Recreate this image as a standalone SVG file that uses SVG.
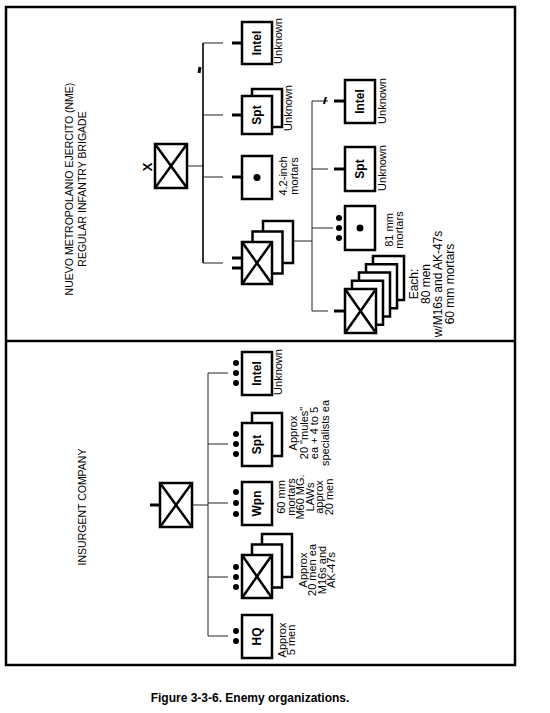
<svg xmlns="http://www.w3.org/2000/svg" width="550" height="713" viewBox="0 0 550 713">
<style>
.frame{fill:none;stroke:#000;stroke-width:2.5}
.box{fill:#fff;stroke:#000;stroke-width:2.5}
.x{stroke:#000;stroke-width:2.5}
.ln{stroke:#222;stroke-width:1;fill:none}
.trunk{stroke:#000;stroke-width:1.6;fill:none}
.stub{stroke:#000;stroke-width:3}
.dot{fill:#000}
text{font-family:"Liberation Sans",Arial,Helvetica,sans-serif;fill:#000;text-anchor:middle}
.b{font-weight:bold;font-size:12px}
.l{font-size:11px}
.t{font-size:10.5px}
.cap{font-weight:bold;font-size:12px}
</style>
<rect class="frame" x="6" y="7" width="509" height="658"/>
<line class="frame" x1="6" y1="341" x2="515" y2="341"/>

<g id="connectors">
  <!-- NME -->
  <line class="ln" x1="187" y1="166" x2="203" y2="166"/>
  <line class="trunk" x1="203" y1="43" x2="203" y2="263"/>
  <line class="ln" x1="203" y1="43" x2="223" y2="43"/>
  <line class="ln" x1="203" y1="115" x2="223" y2="115"/>
  <line class="ln" x1="203" y1="177" x2="223" y2="177"/>
  <line class="ln" x1="203" y1="263" x2="223" y2="263"/>
  <line class="stub" x1="199" y1="73" x2="200" y2="67"/>
  <line class="ln" x1="293" y1="241" x2="312" y2="241"/>
  <line class="ln" x1="312" y1="101" x2="312" y2="311"/>
  <line class="ln" x1="312" y1="101" x2="328" y2="101"/>
  <line class="ln" x1="312" y1="169" x2="328" y2="169"/>
  <line class="ln" x1="312" y1="228" x2="333" y2="228"/>
  <line class="ln" x1="312" y1="311" x2="328" y2="311"/>
  <line class="stub" x1="324" y1="104" x2="326" y2="97" style="stroke-width:2"/>
  <!-- Insurgent -->
  <line class="ln" x1="192" y1="505" x2="208" y2="505"/>
  <line class="ln" x1="208" y1="373" x2="208" y2="636"/>
  <line class="ln" x1="208" y1="373" x2="228" y2="373"/>
  <line class="ln" x1="208" y1="444" x2="228" y2="444"/>
  <line class="ln" x1="208" y1="503" x2="228" y2="503"/>
  <line class="ln" x1="208" y1="577" x2="228" y2="577"/>
  <line class="ln" x1="208" y1="636" x2="228" y2="636"/>
</g>

<g id="nme-title">
  <text class="t" transform="translate(73,189) rotate(-90)">NUEVO METROPOLANIO EJERCITO (NME)</text>
  <text class="t" transform="translate(86,189) rotate(-90)">REGULAR INFANTRY BRIGADE</text>
</g>

<g id="nme-bde">
  <rect class="box" x="155" y="144" width="32" height="44"/>
  <line class="x" x1="155" y1="144" x2="187" y2="188"/>
  <line class="x" x1="187" y1="144" x2="155" y2="188"/>
  <text class="b" style="font-size:13px" transform="translate(152,167) rotate(-90)">X</text>
</g>

<g id="nme-intel">
  <line class="stub" x1="232" y1="43" x2="242" y2="43"/>
  <rect class="box" x="242" y="22" width="30" height="42"/>
  <text class="b" transform="translate(261,43) rotate(-90)">Intel</text>
  <text class="l" transform="translate(282,41) rotate(-90)">Unknown</text>
</g>

<g id="nme-spt">
  <line class="stub" x1="232" y1="115" x2="242" y2="115"/>
  <rect class="box" x="252" y="89" width="30" height="38"/>
  <rect class="box" x="242" y="96" width="30" height="38"/>
  <text class="b" transform="translate(261,115) rotate(-90)">Spt</text>
  <text class="l" transform="translate(292,108) rotate(-90)">Unknown</text>
</g>

<g id="nme-mortar">
  <line class="stub" x1="232" y1="177" x2="242" y2="177"/>
  <rect class="box" x="242" y="156" width="30" height="43"/>
  <circle class="dot" cx="257" cy="177.5" r="3.5"/>
  <text class="l" transform="translate(287,176) rotate(-90)"><tspan x="0">4.2-inch</tspan><tspan x="0" dy="11">mortars</tspan></text>
</g>

<g id="nme-bn">
  <line class="stub" x1="232" y1="258" x2="242" y2="258"/>
  <line class="stub" x1="232" y1="268" x2="242" y2="268"/>
  <rect class="box" x="263" y="221" width="30" height="42"/>
  <rect class="box" x="252.5" y="231.5" width="30" height="42"/>
  <rect class="box" x="242" y="242" width="30" height="42"/>
  <line class="x" x1="242" y1="242" x2="272" y2="284"/>
  <line class="x" x1="272" y1="242" x2="242" y2="284"/>
</g>

<g id="bn-intel">
  <line class="stub" x1="334" y1="101" x2="345" y2="101"/>
  <rect class="box" x="345" y="80" width="30" height="43"/>
  <text class="b" transform="translate(364,101.5) rotate(-90)">Intel</text>
  <text class="l" transform="translate(386,101) rotate(-90)">Unknown</text>
</g>

<g id="bn-spt">
  <line class="stub" x1="334" y1="169" x2="345" y2="169"/>
  <rect class="box" x="345" y="147" width="30" height="44"/>
  <text class="b" transform="translate(364,169) rotate(-90)">Spt</text>
  <text class="l" transform="translate(386,168) rotate(-90)">Unknown</text>
</g>

<g id="bn-mortar">
  <circle class="dot" cx="339" cy="218" r="3"/>
  <circle class="dot" cx="339" cy="228" r="3"/>
  <circle class="dot" cx="339" cy="238" r="3"/>
  <rect class="box" x="345" y="206" width="30" height="44"/>
  <circle class="dot" cx="360" cy="228" r="3.5"/>
  <text class="l" transform="translate(393,230) rotate(-90)"><tspan x="0">81 mm</tspan><tspan x="0" dy="10">mortars</tspan></text>
</g>

<g id="bn-companies">
  <line class="stub" x1="334" y1="311" x2="345" y2="311"/>
  <rect class="box" x="373" y="256" width="31" height="44"/>
  <rect class="box" x="366" y="264.25" width="31" height="44"/>
  <rect class="box" x="359" y="272.5" width="31" height="44"/>
  <rect class="box" x="352" y="280.75" width="31" height="44"/>
  <rect class="box" x="345" y="289" width="31" height="44"/>
  <line class="x" x1="345" y1="289" x2="376" y2="333"/>
  <line class="x" x1="376" y1="289" x2="345" y2="333"/>
  <text class="l" style="font-size:12px" transform="translate(418,284) rotate(-90)"><tspan x="0">Each:</tspan><tspan x="0" dy="12">80 men</tspan><tspan x="0" dy="12">w/M16s and AK-47s</tspan><tspan x="0" dy="12">60 mm mortars</tspan></text>
</g>

<g id="ins-title">
  <text class="t" transform="translate(86,507) rotate(-90)">INSURGENT COMPANY</text>
</g>

<g id="ins-co">
  <line class="stub" x1="150" y1="505" x2="160" y2="505"/>
  <rect class="box" x="160" y="483" width="32" height="44"/>
  <line class="x" x1="160" y1="483" x2="192" y2="527"/>
  <line class="x" x1="192" y1="483" x2="160" y2="527"/>
</g>

<g id="ins-intel">
  <circle class="dot" cx="236" cy="363" r="3"/>
  <circle class="dot" cx="236" cy="373" r="3"/>
  <circle class="dot" cx="236" cy="383" r="3"/>
  <rect class="box" x="242" y="352" width="30" height="43"/>
  <text class="b" transform="translate(261,373.5) rotate(-90)">Intel</text>
  <text class="l" transform="translate(282,372) rotate(-90)">Unknown</text>
</g>

<g id="ins-spt">
  <circle class="dot" cx="236" cy="434" r="3"/>
  <circle class="dot" cx="236" cy="444" r="3"/>
  <circle class="dot" cx="236" cy="454" r="3"/>
  <rect class="box" x="252" y="413" width="30" height="43"/>
  <rect class="box" x="242" y="423" width="30" height="43"/>
  <text class="b" transform="translate(261,444.5) rotate(-90)">Spt</text>
  <text class="l" transform="translate(297,433) rotate(-90)"><tspan x="0">Approx</tspan><tspan x="0" dy="10.5">20 "mules"</tspan><tspan x="0" dy="10.5">ea + 4 to 5</tspan><tspan x="0" dy="10.5">specialists ea</tspan></text>
</g>

<g id="ins-wpn">
  <circle class="dot" cx="236" cy="492" r="3"/>
  <circle class="dot" cx="236" cy="503" r="3"/>
  <circle class="dot" cx="236" cy="514" r="3"/>
  <rect class="box" x="242" y="482" width="30" height="43"/>
  <text class="b" transform="translate(261,503.5) rotate(-90)">Wpn</text>
  <text class="l" transform="translate(285,497) rotate(-90)"><tspan x="0">60 mm</tspan><tspan x="0" dy="9.6">mortars</tspan><tspan x="0" dy="9.6">M60 MG.</tspan><tspan x="0" dy="9.6">LAWs</tspan><tspan x="0" dy="9.6">approx</tspan><tspan x="0" dy="9.6">20 men</tspan></text>
</g>

<g id="ins-plt">
  <circle class="dot" cx="236" cy="567" r="3"/>
  <circle class="dot" cx="236" cy="577" r="3"/>
  <circle class="dot" cx="236" cy="587" r="3"/>
  <rect class="box" x="262" y="534" width="30" height="43"/>
  <rect class="box" x="252" y="544.5" width="30" height="43"/>
  <rect class="box" x="242" y="555" width="30" height="43"/>
  <line class="x" x1="242" y1="555" x2="272" y2="598"/>
  <line class="x" x1="272" y1="555" x2="242" y2="598"/>
  <text class="l" transform="translate(307,570) rotate(-90)"><tspan x="0">Approx</tspan><tspan x="0" dy="9.3">20 men ea</tspan><tspan x="0" dy="9.3">M16s and</tspan><tspan x="0" dy="9.3">AK-47s</tspan></text>
</g>

<g id="ins-hq">
  <circle class="dot" cx="236" cy="631" r="3"/>
  <circle class="dot" cx="236" cy="641" r="3"/>
  <rect class="box" x="242" y="615" width="30" height="43"/>
  <text class="b" transform="translate(261,636.5) rotate(-90)">HQ</text>
  <text class="l" transform="translate(286,640) rotate(-90)"><tspan x="0">Approx</tspan><tspan x="0" dy="9.3">5 men</tspan></text>
</g>

<text class="cap" x="250" y="702">Figure 3-3-6.  Enemy organizations.</text>
</svg>
